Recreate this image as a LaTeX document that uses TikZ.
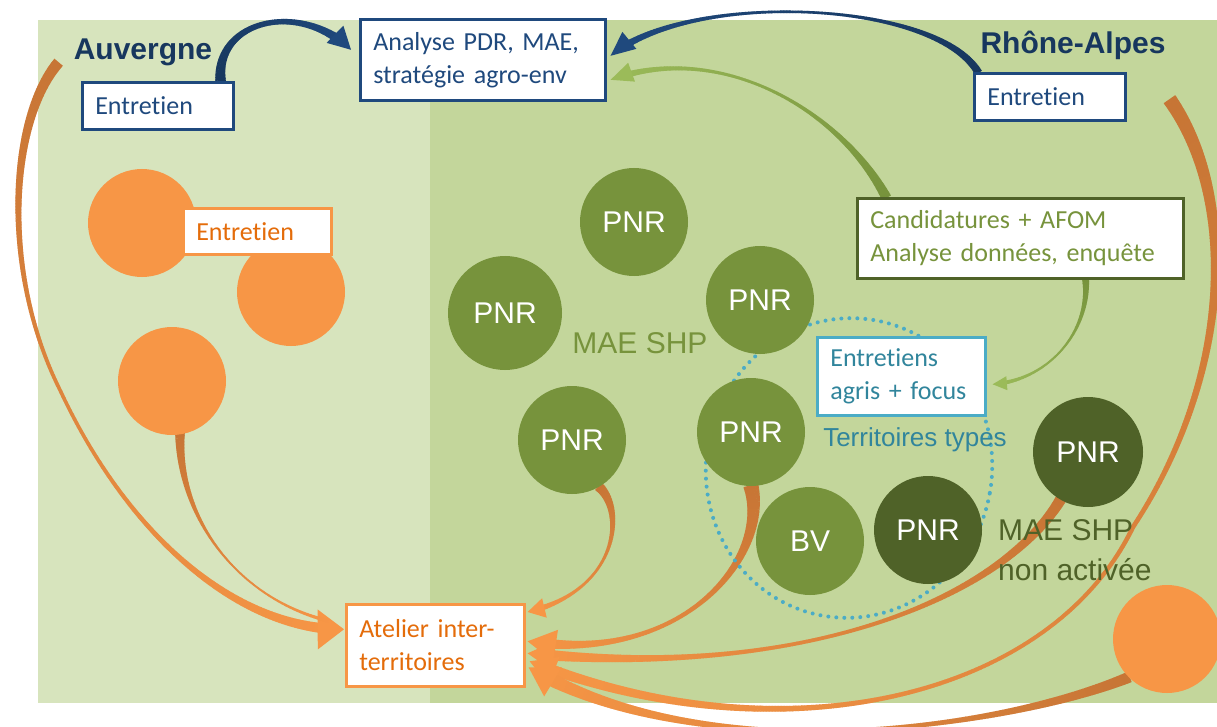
\documentclass[tikz,border=0pt]{standalone}
\usepackage{fontspec}
\setmainfont{Carlito}[Ligatures=NoCommon]
\newfontfamily\arialf{Liberation Sans}
\usetikzlibrary{decorations.markings,shapes.geometric}

\definecolor{panelA}{HTML}{D7E4BD}
\definecolor{panelB}{HTML}{C3D69B}
\definecolor{leaf}{HTML}{77933C}
\definecolor{forest}{HTML}{4F6228}
\definecolor{apricot}{HTML}{F79646}
\definecolor{rust}{HTML}{C77535}
\definecolor{ember}{HTML}{E46C0A}
\definecolor{navy}{HTML}{1F497D}
\definecolor{navydeep}{HTML}{17375E}
\definecolor{lime}{HTML}{9BBB59}
\definecolor{sky}{HTML}{4BACC6}
\definecolor{tealtext}{HTML}{31859C}

\pgfdeclarelayer{panel}
\pgfdeclarelayer{low}
\pgfdeclarelayer{flow}
\pgfsetlayers{panel,low,flow,main}

\tikzset{
  % tapered body: start half-width, end half-width, start colour, end colour, minimum half-width, end position
  tbody/.style n args={6}{postaction={decorate,decoration={markings,
      mark=between positions 0 and #6 step 1.5pt with {%
        \pgfmathsetmacro\tkP{min(1,\pgfkeysvalueof{/pgf/decoration/mark info/distance from start}/\pgfdecoratedpathlength)}%
        \pgfmathsetmacro\tkR{#1*(max(0,1-\tkP))^3+#2*\tkP^3+#5}%
        \pgfmathsetmacro\tkC{100*\tkP}%
        \fill[#4!\tkC!#3] (-1pt,-\tkR pt) rectangle (1pt,\tkR pt);}}}},
  % arrow head: colour, length, half-width
  thead/.style n args={3}{postaction={decorate,decoration={markings,
      mark=at position -0.3pt with {\fill[#1] (0.3pt,0pt) -- (-#2,#3) -- (-#2,-#3) -- cycle;}}}},
  box/.style={draw, line width=2.6pt, fill=white, anchor=north west, align=left,
    inner xsep=13pt, inner ysep=0pt, font=\fontsize{26}{33}\selectfont},
  navybox/.style={box, draw=navy, text=navy},
  orbox/.style={box, draw=apricot, text=ember},
  greenbox/.style={box, draw=forest, text=leaf},
  skybox/.style={box, draw=sky, text=tealtext},
  disc/.style={circle, minimum size=108pt, inner sep=0pt, text=white,
    font=\arialf\fontsize{30}{30}\selectfont},
  pnr/.style={disc, fill=leaf},
  pnrdark/.style={disc, fill=forest},
  blob/.style={disc, fill=apricot},
  region/.style={text=navydeep, font=\arialf\bfseries\fontsize{30}{30}\selectfont},
}

\begin{document}
\begin{tikzpicture}[x=1pt,y=-1pt]
\useasboundingbox (0,0) rectangle (1217,727);

% territory panels
\begin{pgfonlayer}{panel}
  \fill[white] (0,0) rectangle (1217,727);
  \fill[panelA] (38,20) rectangle (430,703);
  \fill[panelB] (430,20) rectangle (1217,703);
\end{pgfonlayer}

% "Territoires types" ring
\node[ellipse, draw=sky, line width=4pt, dash pattern=on 0pt off 8pt, line cap=round,
  minimum width=286pt, minimum height=300pt, inner sep=0pt, rotate=-10] (ring) at (849,468) {};

% Auvergne sites
\node[blob] (o1) at (142,223) {};
\node[blob] (o2) at (291,292) {};
\node[blob] (o3) at (172,381) {};
\node[blob] (o4) at (1167,639) {};

% parks and catchments
\node[pnr] (p1) at (634,222) {PNR};
\node[pnr, minimum size=114pt] (p2) at (505,313) {PNR};
\node[pnr] (p3) at (760,300) {PNR};
\node[pnr] (p4) at (572,440) {PNR};
\node[pnr] (p5) at (751,432) {PNR};
\node[pnr] (bv) at (810,541) {BV};
\node[pnrdark] (d1) at (928,530) {PNR};
\node[pnrdark, minimum size=110pt] (d2) at (1088,452) {PNR};

% labels
\node[region] (auv) at (143,52) {Auvergne};
\node[region] (rha) at (1073,45) {Rhône-Alpes};
\node[text=leaf, font=\arialf\fontsize{30}{30}\selectfont] (mae) at (640,343) {MAE SHP};
\node[text=tealtext, font=\arialf\fontsize{26}{26}\selectfont] (tt) at (915,440) {Territoires types};
\node[text=forest, font=\arialf\fontsize{30}{40}\selectfont, align=left, anchor=west, inner sep=0pt]
  (maeno) at (998,550) {MAE SHP\\non activée};

% text boxes
\node[navybox, minimum width=245pt, minimum height=81pt, text width=219pt] (ana) at (359,18)
  {Analyse PDR, MAE,\\stratégie agro-env};
\node[navybox, minimum width=151pt, minimum height=47pt, text width=125pt] (entL) at (81,81) {Entretien};
\node[navybox, minimum width=151pt, minimum height=47pt, text width=125pt] (entR) at (973,72) {Entretien};
\node[orbox, minimum width=148pt, minimum height=46pt, text width=122pt] (entO) at (182,207) {Entretien};
\node[greenbox, minimum width=326pt, minimum height=80pt, text width=300pt] (cand) at (856,197)
  {Candidatures + AFOM\\Analyse données, enquête};
\node[skybox, minimum width=168pt, minimum height=78pt, text width=142pt] (agris) at (816,336)
  {Entretiens\\agris + focus};

\begin{pgfonlayer}{low}
\node[orbox, minimum width=178pt, minimum height=82pt, text width=152pt] (atel) at (345,603)
  {Atelier inter-\\territoires};
\end{pgfonlayer}

\coordinate (lefttop) at (58,63);
\coordinate (righttop) at (1170,100);

\begin{pgfonlayer}{flow}
% interviews feeding the programme analysis
\path[tbody={3.5}{3.5}{navydeep}{navy}{1.8}{-18pt}, thead={navy}{22pt}{12pt}]
  ([xshift=-14pt]entL.north east) .. controls (215,20) and (300,0) .. ([xshift=-8pt,yshift=10pt]ana.west);
\path[tbody={3.5}{3.5}{navydeep}{navy}{0.4}{-20pt}, thead={navy}{24pt}{11pt}]
  ([xshift=5pt]entR.north west) .. controls (935,0) and (690,-10) .. ([xshift=4pt,yshift=4pt]ana.east);
\path[tbody={4.5}{3}{leaf}{lime}{0.5}{-18pt}, thead={lime}{22pt}{10pt}]
  ([xshift=30pt]cand.north west) .. controls (840,110) and (720,40) .. ([xshift=4pt,yshift=-20pt]ana.east);
\path[tbody={3}{2}{leaf}{lime}{0.4}{-12pt}, thead={lime}{14pt}{7pt}]
  ([xshift=-99pt]cand.south east) .. controls (1090,330) and (1050,380) .. ([xshift=6pt,yshift=-8pt]agris.east);

% everything converging on the workshop
\path[tbody={5}{5}{rust}{apricot}{0.5}{-22pt}, thead={apricot}{26pt}{20pt}]
  (lefttop) .. controls (10,120) and (0,270) .. (60,390)
  .. controls (130,540) and (240,630) .. ([xshift=-1pt,yshift=16pt]atel.west);
\path[tbody={4.5}{1.5}{rust}{apricot}{0.3}{1}]
  ([xshift=8pt,yshift=2pt]o3.south) .. controls (178,520) and (240,600) .. ([xshift=-15pt,yshift=24pt]atel.west);
\path[tbody={4.5}{3}{rust}{apricot}{0.4}{-14pt}, thead={apricot}{17pt}{10pt}]
  (p4.-60) .. controls (625,510) and (620,590) .. ([xshift=2pt,yshift=-9pt]atel.north east);
\path[tbody={7}{5.5}{rust}{apricot}{0.5}{-22pt}, thead={apricot}{28pt}{16pt}]
  (p5.south) .. controls (770,560) and (680,665) .. ([xshift=2pt,yshift=4pt]atel.east);
\path[tbody={5}{5.5}{rust}{apricot}{0.5}{-20pt}, thead={apricot}{26pt}{15pt}]
  (d2.-120) .. controls (1000,600) and (800,680) .. ([xshift=2pt,yshift=-8pt]atel.east);
\path[tbody={6.5}{5}{rust}{apricot}{0.5}{-20pt}, thead={apricot}{26pt}{15pt}]
  (righttop) .. controls (1240,200) and (1230,380) .. (1133,527)
  .. controls (1050,700) and (780,760) .. ([xshift=4pt,yshift=-16pt]atel.east);
\path[tbody={5}{7}{rust}{apricot}{0.5}{-22pt}, thead={apricot}{28pt}{17pt}]
  (o4.-135) .. controls (1000,730) and (700,770) .. ([xshift=3pt,yshift=-22pt]atel.east);
\end{pgfonlayer}
\end{tikzpicture}
\end{document}
